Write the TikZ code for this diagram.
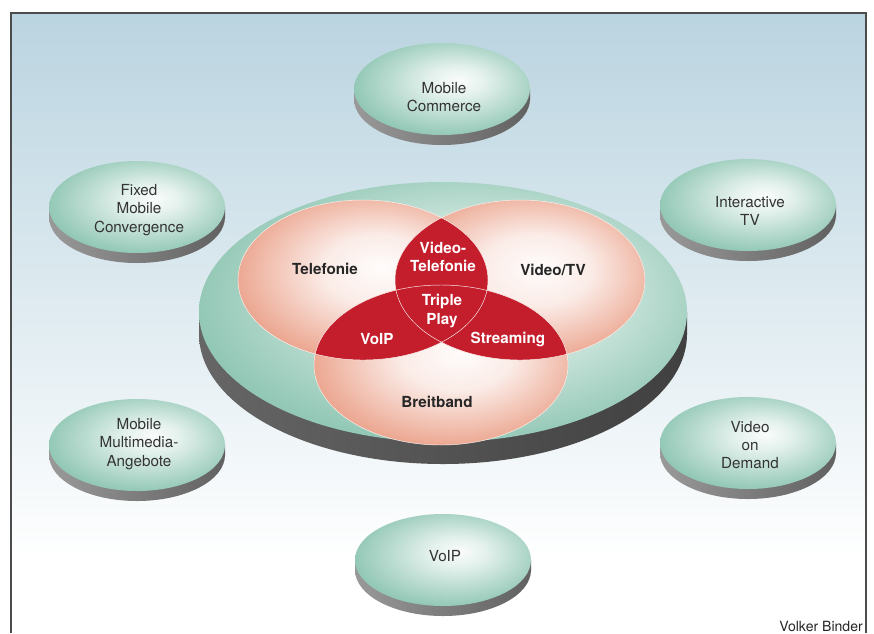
\documentclass[tikz,border=0pt]{standalone}
\usepackage{fontspec}
\setmainfont{TeX Gyre Heros}
\usetikzlibrary{shadings}

\definecolor{bgblue}{RGB}{186,212,224}
\definecolor{diskgreen}{RGB}{145,199,180}
\definecolor{peach}{RGB}{236,168,146}
\definecolor{vennred}{RGB}{196,30,45}
\pgfdeclareradialshading{diskglow}{\pgfpoint{5bp}{5bp}}{color(0bp)=(white!95!diskgreen); color(8bp)=(white!75!diskgreen); color(28bp)=(diskgreen); color(50bp)=(diskgreen)}
\pgfdeclareradialshading{vennglow}{\pgfpoint{4bp}{4bp}}{color(0bp)=(white!97!peach); color(11bp)=(white!78!peach); color(27bp)=(peach); color(50bp)=(peach)}

\tikzset{
  disktop/.style={shading=diskglow},
  diskside/.style={left color=black!40, middle color=black!12, right color=black!62},
  bigside/.style={left color=black!60, middle color=black!18, right color=black!75},
  venn/.style={shading=vennglow},
  vennline/.style={draw=white!85!peach, line width=0.4pt},
  lbl/.style={font=\fontsize{13}{15.5}\selectfont, text=black!80, align=center},
  vlbl/.style={font=\fontsize{13}{16}\selectfont\bfseries, text=black!85, align=center},
  rlbl/.style={vlbl, text=white}
}

\begin{document}
\begin{tikzpicture}[x=0.03cm, y=-0.03cm]
	\useasboundingbox (0,0) rectangle (874,633);
	\fill[white] (0,0) rectangle (874,633);
	\shade[top color=bgblue, bottom color=white] (11,13) rectangle (866,560);
	\draw[black!70, line width=1pt] (11,633) -- (11,13) -- (866,13) -- (866,633);

	% big disk
	\shade[bigside] (443,334) ellipse (244 and 130);
	\shade[bigside] (199,312) rectangle (687,334);
	\shade[disktop] (443,312) ellipse (244 and 130);

	% venn
	\shade[venn] (363,280) ellipse (125 and 80);
	\shade[venn] (520,280) ellipse (125 and 80);
	\shade[venn] (441,365) ellipse (127 and 80);
	\begin{scope}
		\clip (363,280) ellipse (125 and 80);
		\fill[vennred] (520,280) ellipse (125 and 80);
		\fill[vennred] (441,365) ellipse (127 and 80);
	\end{scope}
	\begin{scope}
		\clip (520,280) ellipse (125 and 80);
		\fill[vennred] (441,365) ellipse (127 and 80);
	\end{scope}
	\draw[vennline] (363,280) ellipse (125 and 80);
	\draw[vennline] (520,280) ellipse (125 and 80);
	\draw[vennline] (441,365) ellipse (127 and 80);

	\node[vlbl] (tel) at (325,269) {Telefonie};
	\node[vlbl] (vid) at (553,270) {Video/TV};
	\node[vlbl] (bb)  at (437,402) {Breitband};
	\node[rlbl] (vt)  at (443,257) {Video-\\Telefonie};
	\node[rlbl] (tp)  at (442,311) {Triple\\Play};
	\node[rlbl] (vv)  at (377,339) {VoIP};
	\node[rlbl] (str) at (508,339) {Streaming};

	% small disks
	\foreach \name/\x/\y/\ty/\txt in {mc/442/89/97/{Mobile\\Commerce}, fmc/137/207/210/{Fixed\\Mobile\\Convergence}, itv/748/205/211/{Interactive\\TV}, mma/137/445/444/{Mobile\\Multimedia-\\Angebote}, vod/748/443/445/{Video\\on\\Demand}, voip/443/560/556/{VoIP}}
	{
		\shade[diskside] (\x,\y+10) ellipse (88 and 46);
		\shade[diskside] (\x-88,\y) rectangle (\x+88,\y+10);
		\shade[disktop] (\x,\y) ellipse (88 and 46);
		\node[lbl] (\name) at (\x+2,\ty) {\txt};
	}

	\node[anchor=south east, inner sep=0pt, font=\fontsize{12}{14}\selectfont, text=black!85] (credit) at (863,632) {Volker Binder};
\end{tikzpicture}
\end{document}
